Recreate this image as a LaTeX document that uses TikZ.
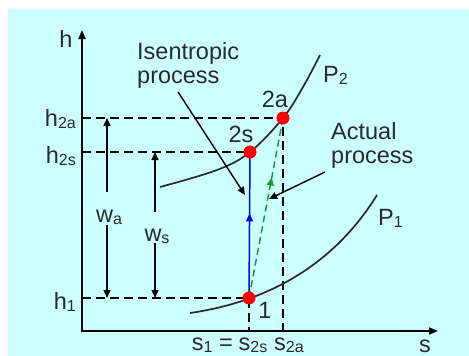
\documentclass[tikz,border=0pt]{standalone}
\usepackage{fontspec}
\setmainfont{Liberation Sans}
\usetikzlibrary{arrows.meta,decorations.markings}
\definecolor{bgCyan}{HTML}{CCFFFF}
\definecolor{tInk}{HTML}{2A2A2A}
\definecolor{ptRed}{HTML}{FF0000}
\definecolor{isenBlue}{HTML}{0000FF}
\definecolor{actGreen}{HTML}{229A22}
\newcommand{\lo}[1]{\raisebox{-0.12em}{\fontsize{16}{16}\selectfont #1}}
\tikzset{
  lbl/.style={font=\fontsize{23.5}{24}\selectfont, text=tInk, inner sep=0pt},
  statept/.style={circle, fill=ptRed, minimum size=13pt, inner sep=0pt},
  guide/.style={draw=black, line width=1.3pt, dash pattern=on 9pt off 5pt},
  isobar/.style={draw=tInk, line width=1.7pt},
  axisline/.style={draw=black, line width=1.7pt, {Triangle[length=9pt,width=7pt]}-{Triangle[length=9pt,width=7pt]}},
  dimarrow/.style={draw=black, line width=1.4pt, -{Triangle[length=8pt,width=7pt]}},
  midarrow/.style={postaction={decorate}, decoration={markings,
    mark=at position #1 with {\arrow{Triangle[length=8pt,width=7pt]}}}},
}

\begin{document}
\begin{tikzpicture}[x=1pt,y=-1pt]
  \useasboundingbox (0,0) rectangle (469,356);
  \fill[bgCyan] (8,9) rectangle (469,356);

  % state points
  \coordinate (st1) at (249,298);
  \coordinate (st2s) at (250,152);
  \coordinate (st2a) at (283,118);

  % axes
  \coordinate (org) at (82,331);
  \coordinate (hEnd) at (82,30);
  \coordinate (sEnd) at (438,331);
  \draw[axisline] (hEnd) -- (org) -- (sEnd);
  \node[lbl, anchor=base] (hAx) at (66,47) {h};
  \node[lbl, anchor=base] (sAx) at (425,352) {s};

  % guide lines
  \draw[guide] (org |- st2a) -- (st2a) -- (st2a |- org);
  \draw[guide] (org |- st2s) -- (st2s);
  \draw[guide] (org |- st1) -- (st1) -- (st1 |- org);

  \node[lbl, anchor=base east] (h2aLbl) at (76,126) {h\lo{2a}};
  \node[lbl, anchor=base east] (h2sLbl) at (76,163) {h\lo{2s}};
  \node[lbl, anchor=base east] (h1Lbl) at (76,309) {h\lo{1}};
  \node[lbl, anchor=base] (s2sLbl) at (253,350) {s\lo{2s}};
  \node[lbl, anchor=base east] (s1Lbl) at (233,350) {s\lo{1} =};
  \node[lbl, anchor=base] (s2aLbl) at (289,350) {s\lo{2a}};

  % isobars
  \draw[isobar] plot[smooth, tension=0.6] coordinates
    {(160,187) (217,170) (250,152) (283,118) (303,87) (320,55)};
  \draw[isobar] (190,313) .. controls (280,300) and (340,255) .. (377,195);
  \node[lbl, anchor=base west] (P2Lbl) at (323,82) {P\lo{2}};
  \node[lbl, anchor=base west] (P1Lbl) at (378,225) {P\lo{1}};

  % work arrows
  \node[lbl, anchor=base] (wa) at (109,222) {w\lo{a}};
  \coordinate (waTop) at (107,192);
  \coordinate (waBot) at (107,225);
  \draw[dimarrow] (waTop) -- (waTop |- st2a);
  \draw[dimarrow] (waBot) -- (waBot |- st1);
  \node[lbl, anchor=base] (ws) at (157,241) {w\lo{s}};
  \coordinate (wsTop) at (155,212);
  \coordinate (wsBot) at (155,243);
  \draw[dimarrow] (wsTop) -- (wsTop |- st2s);
  \draw[dimarrow] (wsBot) -- (wsBot |- st1);

  % processes
  \draw[isenBlue, line width=1.5pt, midarrow=0.58] (st1) -- (st2s);
  \draw[actGreen, line width=1.5pt, dash pattern=on 7pt off 4pt, midarrow=0.67] (st1) -- (st2a);

  % annotations
  \node[lbl, anchor=base west, align=left] (isen) at (137,83) {Isentropic\\process};
  \coordinate (isenTip) at (245,195);
  \draw[dimarrow] ([xshift=-10pt,yshift=-4pt]isen.south) -- (isenTip);
  \node[lbl, anchor=base west, align=left] (actual) at (331,163) {Actual\\process};
  \coordinate (actFrom) at (325,172);
  \coordinate (actTip) at (269,199);
  \draw[dimarrow] (actFrom) -- (actTip);

  \node[lbl, anchor=base] (l2s) at (241,142) {2s};
  \node[lbl, anchor=base] (l2a) at (275,107) {2a};
  \node[lbl, anchor=base] (l1) at (265,318) {1};

  % dots
  \node[statept] (dot1) at (st1) {};
  \node[statept] (dot2s) at (st2s) {};
  \node[statept] (dot2a) at (st2a) {};
\end{tikzpicture}
\end{document}
